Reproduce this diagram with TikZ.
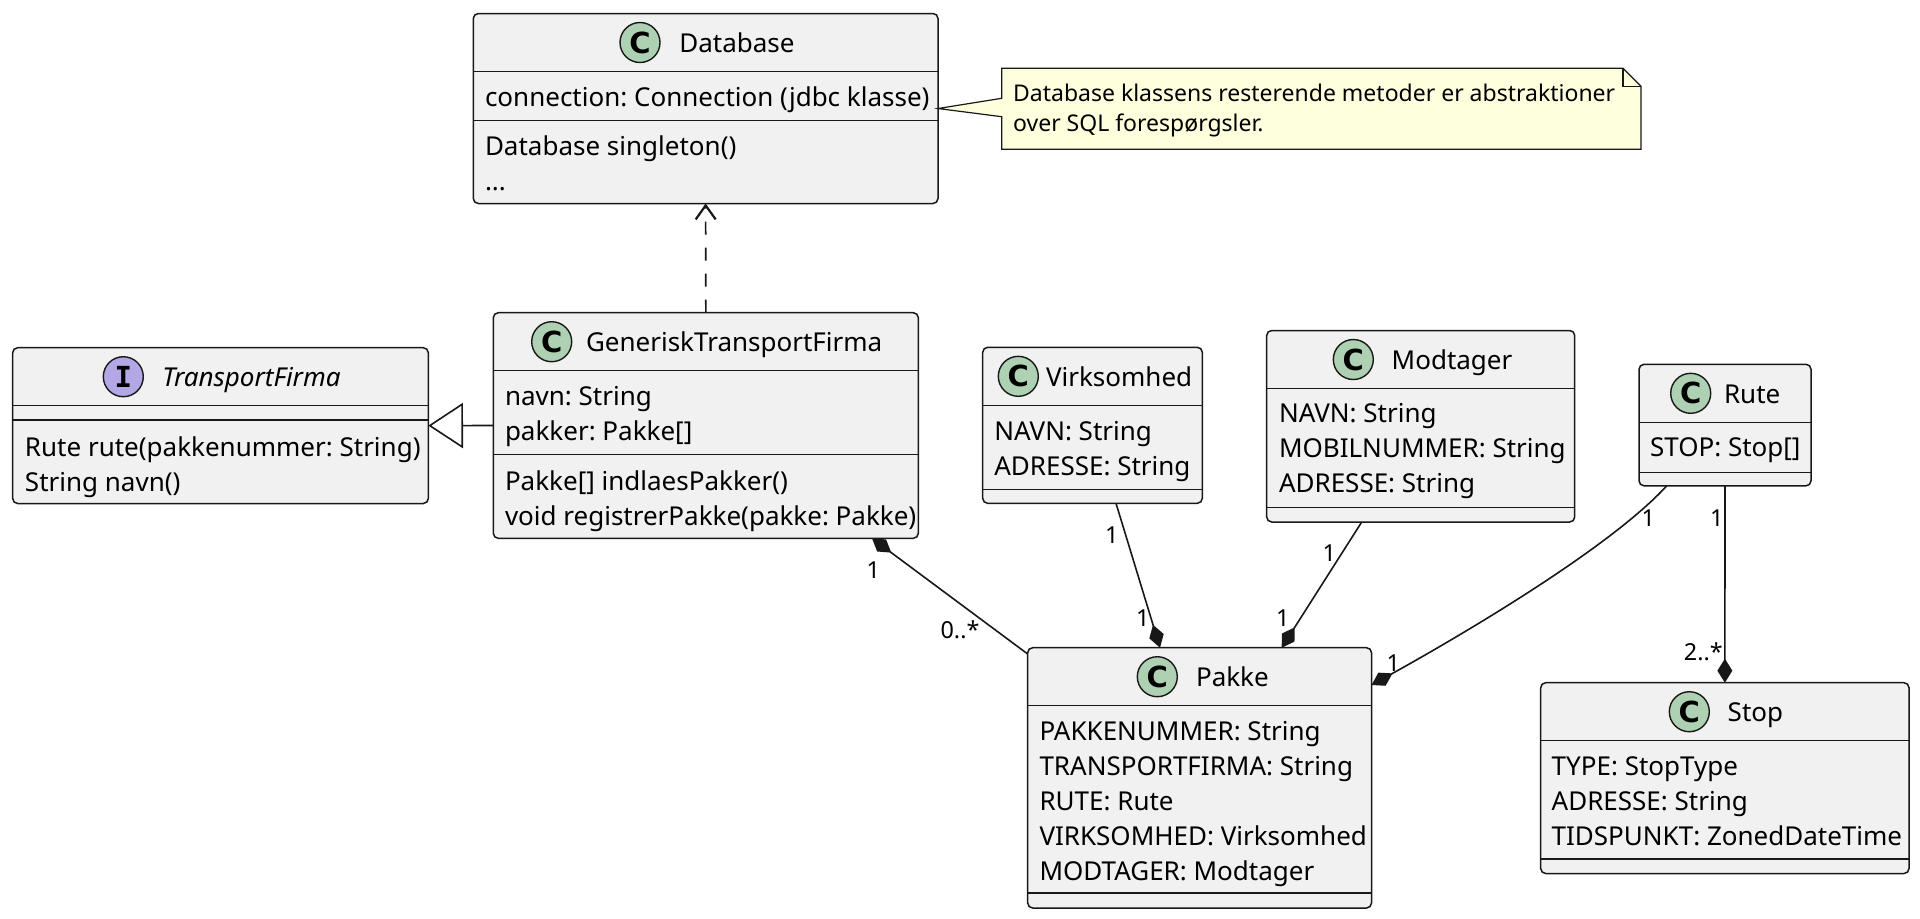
\documentclass[tikz,border=0pt]{standalone}
\usepackage{fontspec}
\setmainfont{Noto Sans}
\newfontfamily\notefont{Noto Sans}
\newfontfamily\ifont{DejaVu Sans Mono Bold}
\newfontfamily\cfont{DejaVu Sans Bold}
\usetikzlibrary{arrows.meta,calc}
\definecolor{lc}{HTML}{181818}
\definecolor{cf}{HTML}{F1F1F1}
\definecolor{cg}{HTML}{ADD1B2}
\definecolor{ci}{HTML}{B4A7E5}
\definecolor{nf}{HTML}{FEFFDD}
\frenchspacing
\tikzset{
  cls/.style={draw=lc, fill=cf, rounded corners=2.5pt, line width=0.75pt, inner sep=0pt, outer sep=0pt},
  sepl/.style={draw=lc, line width=0.75pt},
  txt/.style={anchor=base west, inner sep=0pt, outer sep=0pt, text=black, font=\fontsize{13}{15}\selectfont},
  ttl/.style={txt},
  circc/.style={circle, draw=lc, fill=cg, minimum size=20pt, inner sep=0pt, line width=0.7pt, font=\cfont\fontsize{14.5}{14.5}\selectfont},
  circi/.style={circc, fill=ci, font=\ifont\fontsize{14.5}{14.5}\selectfont},
  conn/.style={draw=lc, line width=0.8pt},
  comp/.style={conn, {Diamond[length=12pt,width=7.5pt]}-},
  compend/.style={conn, -{Diamond[length=12pt,width=7.5pt]}},
  lbl/.style={inner sep=0pt, outer sep=0pt, font=\fontsize{11.7}{12}\selectfont},
  notest/.style={draw=lc, fill=nf, line width=0.6pt, line join=miter},
  notetxt/.style={anchor=base west, inner sep=0pt, font=\notefont\fontsize{11.5}{13}\selectfont}
}
\begin{document}
\begin{tikzpicture}[x=0.5pt,y=-0.5pt]
\useasboundingbox[fill=white] (0,0) rectangle (1920,918);

% ---------- Database ----------
\node[cls, minimum width=232.35pt, minimum height=95pt] (db) at (705.65,108.5) {};
\draw[sepl] ([yshift=-29pt]db.north west) -- ([yshift=-29pt]db.north east);
\draw[sepl] ([yshift=-53.5pt]db.north west) -- ([yshift=-53.5pt]db.north east);
\node[circc] (dbc) at (640,42.5) {C};
\node[ttl] (dbt) at (679.3,52.5) {Database};
\node[txt] (dba1) at (485,106) {connection: Connection (jdbc klasse)};
\node[txt] (dbm1) at (485,155.5) {Database singleton()};
\node[txt] (dbm2) at (485,190.5) {...};

% ---------- Note ----------
\draw[notest] (1001.7,68.3) -- (1623,68.3) -- (1641,86.3) -- (1641,149.3) -- (1001.7,149.3) -- (1001.7,116.7) -- (db.east) -- (1001.7,98.3) -- cycle;
\draw[notest, fill=none] (1623,68.3) -- (1623,86.3) -- (1641,86.3);
\node[notetxt] (n1) at (1012.7,101.5) {Database klassens resterende metoder er abstraktioner};
\node[notetxt] (n2) at (1012.7,131) {over SQL forespørgsler.};

% ---------- TransportFirma ----------
\node[cls, minimum width=207.8pt, minimum height=77.9pt] (tf) at (220.5,425.6) {};
\draw[sepl] ([yshift=-29pt]tf.north west) -- ([yshift=-29pt]tf.north east);
\draw[sepl] ([yshift=-36.15pt]tf.north west) -- ([yshift=-36.15pt]tf.north east);
\node[circi] (tfc) at (123.3,376.7) {I};
\node[ttl, font=\itshape\fontsize{13}{15}\selectfont] (tft) at (162.3,386.7) {TransportFirma};
\node[txt] (tfm1) at (25,456) {Rute rute(pakkenummer: String)};
\node[txt] (tfm2) at (25,491) {String navn()};

% ---------- GeneriskTransportFirma ----------
\node[cls, minimum width=212.5pt, minimum height=112.8pt] (gtf) at (705.8,425.5) {};
\draw[sepl] ([yshift=-29pt]gtf.north west) -- ([yshift=-29pt]gtf.north east);
\draw[sepl] ([yshift=-70.8pt]gtf.north west) -- ([yshift=-70.8pt]gtf.north east);
\node[circc] (gtfc) at (551.7,341.7) {C};
\node[ttl] (gtft) at (586,351.7) {GeneriskTransportFirma};
\node[txt] (gtfa1) at (505,405) {navn: String};
\node[txt] (gtfa2) at (505,440) {pakker: Pakke[]};
\node[txt] (gtfm1) at (505,490) {Pakke[] indlaesPakker()};
\node[txt] (gtfm2) at (505,525) {void registrerPakke(pakke: Pakke)};

% ---------- Virksomhed ----------
\node[cls, minimum width=109.8pt, minimum height=78pt] (vir) at (1092.5,425.3) {};
\draw[sepl] ([yshift=-29pt]vir.north west) -- ([yshift=-29pt]vir.north east);
\draw[sepl] ([yshift=-71pt]vir.north west) -- ([yshift=-71pt]vir.north east);
\node[circc] (virc) at (1018.3,376.3) {C};
\node[ttl] (virt) at (1046,386.3) {Virksomhed};
\node[txt] (vira1) at (994.3,440) {NAVN: String};
\node[txt] (vira2) at (994.3,475) {ADRESSE: String};

% ---------- Modtager ----------
\node[cls, minimum width=154pt, minimum height=95.75pt] (mod) at (1420.7,426.25) {};
\draw[sepl] ([yshift=-29pt]mod.north west) -- ([yshift=-29pt]mod.north east);
\draw[sepl] ([yshift=-88.5pt]mod.north west) -- ([yshift=-88.5pt]mod.north east);
\node[circc] (modc) at (1353.3,359.5) {C};
\node[ttl] (modt) at (1391.7,369.5) {Modtager};
\node[txt] (moda1) at (1279,422.5) {NAVN: String};
\node[txt] (moda2) at (1279,457.5) {MOBILNUMMER: String};
\node[txt] (moda3) at (1279,492.5) {ADRESSE: String};

% ---------- Rute ----------
\node[cls, minimum width=86pt, minimum height=60.75pt] (rute) at (1725,425.05) {};
\draw[sepl] ([yshift=-29pt]rute.north west) -- ([yshift=-29pt]rute.north east);
\draw[sepl] ([yshift=-54pt]rute.north west) -- ([yshift=-54pt]rute.north east);
\node[circc] (rutec) at (1690.7,393.3) {C};
\node[ttl] (rutet) at (1724,403.3) {Rute};
\node[txt] (rutea1) at (1650,456.8) {STOP: Stop[]};

% ---------- Pakke ----------
\node[cls, minimum width=171.9pt, minimum height=130.15pt] (pakke) at (1199.6,777.85) {};
\draw[sepl] ([yshift=-29pt]pakke.north west) -- ([yshift=-29pt]pakke.north east);
\draw[sepl] ([yshift=-122.75pt]pakke.north west) -- ([yshift=-122.75pt]pakke.north east);
\node[circc] (pakkec) at (1157.3,676.7) {C};
\node[ttl] (pakket) at (1196,686.7) {Pakke};
\node[txt] (pa1) at (1039.5,740.2) {PAKKENUMMER: String};
\node[txt] (pa2) at (1039.5,775.2) {TRANSPORTFIRMA: String};
\node[txt] (pa3) at (1039.5,810.2) {RUTE: Rute};
\node[txt] (pa4) at (1039.5,845.2) {VIRKSOMHED: Virksomhed};
\node[txt] (pa5) at (1039.5,880.2) {MODTAGER: Modtager};

% ---------- Stop ----------
\node[cls, minimum width=184.15pt, minimum height=95.4pt] (stop) at (1724.85,778.1) {};
\draw[sepl] ([yshift=-29pt]stop.north west) -- ([yshift=-29pt]stop.north east);
\draw[sepl] ([yshift=-88.25pt]stop.north west) -- ([yshift=-88.25pt]stop.north east);
\node[circc] (stopc) at (1689.3,711.7) {C};
\node[ttl] (stopt) at (1727.7,721.7) {Stop};
\node[txt] (sa1) at (1551.7,775.2) {TYPE: StopType};
\node[txt] (sa2) at (1551.7,810.2) {ADRESSE: String};
\node[txt] (sa3) at (1551.7,845.2) {TIDSPUNKT: ZonedDateTime};

% ---------- Connectors ----------
\draw[conn, dash pattern=on 6.5pt off 6.5pt, -{Straight Barb[length=7pt,width=10pt,line width=1.1pt]}] (gtf.north) -- (db.south);
\draw[conn, -{Triangle[open, fill=white, length=17.35pt, width=22.6pt]}] (gtf.west) -- (tf.east);
\draw[comp] ([xshift=189.35pt]gtf.south west) -- ([yshift=-3.15pt]pakke.north west);
\draw[compend] ([xshift=66.65pt]vir.south west) -- ([xshift=66.15pt]pakke.north west);
\draw[compend] ([xshift=47.5pt]mod.south west) -- ([xshift=127pt]pakke.north west);
\draw[compend] ([xshift=13.85pt]rute.south west) .. controls (1610,548) and (1460,636) .. ([yshift=-18.65pt]pakke.north east);
\draw[compend] (rute.south) -- (stop.north);

% ---------- Labels ----------
\node[lbl] (l1) at (873.3,570) {1};
\node[lbl] (l2) at (960,630) {0..*};
\node[lbl] (l3) at (1111.7,535) {1};
\node[lbl] (l4) at (1142.7,617.7) {1};
\node[lbl] (l5) at (1329.3,552.7) {1};
\node[lbl] (l6) at (1282.7,617.7) {1};
\node[lbl] (l7) at (1648.3,518.3) {1};
\node[lbl] (l8) at (1716.7,518.3) {1};
\node[lbl] (l9) at (1393.3,663.3) {1};
\node[lbl] (l10) at (1703.3,652) {2..*};
\end{tikzpicture}
\end{document}
